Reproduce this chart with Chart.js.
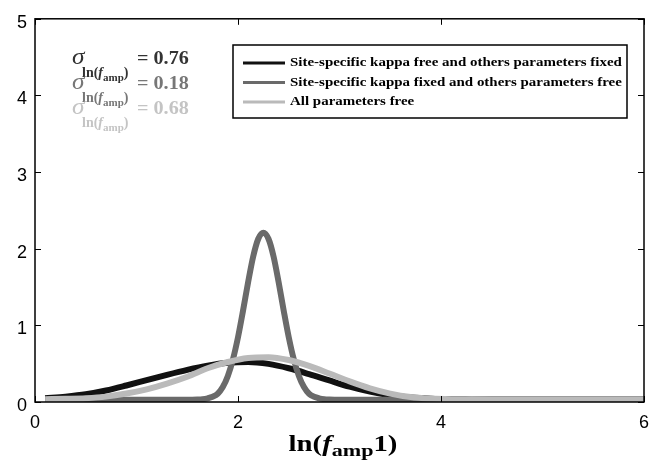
<!DOCTYPE html>
<html>
<head>
<meta charset="utf-8">
<script src="https://cdn.jsdelivr.net/npm/chart.js@4"></script>
<style>
html,body{margin:0;padding:0;background:#fff;}
#wrap{width:665px;height:468px;}
</style>
</head>
<body>
<div id="wrap"><canvas id="c" width="665" height="468"></canvas></div>
<script>
// curve samples
var blackX=[0.1,0.3,0.5,0.7,0.9,1.1,1.3,1.5,1.7,1.9,2.1,2.3,2.5,2.7,2.9,3.1,3.3,3.5,3.7,3.9,4.1,4.3,4.5,5.0,6.0];
var blackY=[0.05,0.07,0.1,0.15,0.215,0.285,0.355,0.42,0.475,0.512,0.522,0.497,0.44,0.364,0.281,0.2,0.135,0.088,0.058,0.043,0.036,0.034,0.033,0.032,0.032];
var lightX=[0.1,0.3,0.5,0.7,0.9,1.1,1.3,1.5,1.7,1.9,2.1,2.3,2.5,2.7,2.9,3.1,3.3,3.5,3.7,3.9,4.1,4.3,4.5,5.0,6.0];
var lightY=[0.036,0.042,0.05,0.07,0.11,0.165,0.24,0.33,0.44,0.522,0.575,0.585,0.548,0.471,0.372,0.269,0.179,0.11,0.065,0.045,0.037,0.035,0.034,0.034,0.034];
var darkX=[0.1,1.0,1.5,1.6,1.65,1.7,1.75,1.8,1.85,1.9,1.95,2.0,2.05,2.1,2.15,2.2,2.25,2.3,2.35,2.4,2.45,2.5,2.55,2.6,2.65,2.7,2.75,2.8,2.85,2.9,3.0,4.0,6.0];
var darkY=[0.03,0.03,0.03,0.033,0.037,0.048,0.068,0.108,0.195,0.34,0.555,0.845,1.195,1.565,1.9,2.13,2.21,2.13,1.9,1.565,1.195,0.845,0.555,0.34,0.195,0.108,0.068,0.048,0.037,0.033,0.03,0.03,0.03];
var seriesNames=['Site-specific kappa free and others parameters fixed','Site-specific kappa fixed and others parameters free','All parameters free'];
var sigmaVals=['0.76','0.18','0.68'];
var colors=['#111111','#6a6a6a','#bababa'];
var sigmaColors=['#333333','#777777','#c4c4c4'];
var xTicks=[0,2,4,6];
var yTicks=[0,1,2,3,4,5];

function pts(xs,ys){return xs.map(function(x,i){return {x:x,y:ys[i]};});}

var SERIF='"Liberation Serif","Times New Roman",serif';
// text drawn a bit wider than the font, like the stretched original
function wtext(c,t,font,x,y,sx){
  c.font=font;c.save();c.translate(x,y);c.scale(sx,1);c.fillText(t,0,0);c.restore();
  return c.measureText(t).width*sx;
}
var deco={
  id:'deco',
  afterDraw:function(ch){
    var c=ch.ctx,a=ch.chartArea,xs=ch.scales.x,ys=ch.scales.y;
    c.save();
    // box + inward ticks
    c.strokeStyle='#000';c.lineWidth=1.5;
    c.strokeRect(a.left,a.top,a.right-a.left,a.bottom-a.top);
    c.lineWidth=1;c.beginPath();
    xTicks.forEach(function(v){var p=Math.round(xs.getPixelForValue(v))+0.5;
      c.moveTo(p,a.bottom);c.lineTo(p,a.bottom-6);c.moveTo(p,a.top);c.lineTo(p,a.top+6);});
    yTicks.forEach(function(v){var p=Math.round(ys.getPixelForValue(v))+0.5;
      c.moveTo(a.left,p);c.lineTo(a.left+6,p);c.moveTo(a.right,p);c.lineTo(a.right-6,p);});
    c.stroke();
    // sigma annotations
    c.textBaseline='alphabetic';c.textAlign='left';
    sigmaVals.forEach(function(s,i){
      var y0=64+i*25;c.fillStyle=sigmaColors[i];
      wtext(c,'\u03c3','italic 23px '+SERIF,72,y0,1.1);
      var x=82;
      x+=wtext(c,'ln(','bold 14px '+SERIF,x,y0+13,1);
      x+=wtext(c,'f','italic bold 14px '+SERIF,x,y0+13,1);
      x+=wtext(c,'amp','bold 11px '+SERIF,x,y0+17,1);
      wtext(c,')','bold 14px '+SERIF,x,y0+13,1);
      wtext(c,'= '+s,'bold 18px '+SERIF,137,y0,1.12);
    });
    // legend
    c.fillStyle='#fff';c.fillRect(233,45,394,73);
    c.strokeStyle='#000';c.lineWidth=1.5;c.strokeRect(233,45,394,73);
    seriesNames.forEach(function(n,i){
      var y=63+i*19.5;
      c.strokeStyle=colors[i];c.lineWidth=3;c.beginPath();c.moveTo(243,y);c.lineTo(285,y);c.stroke();
      c.fillStyle='#000';c.textBaseline='middle';wtext(c,n,'bold 13px '+SERIF,290,y,1.15);
    });
    // x axis title
    c.textBaseline='alphabetic';c.fillStyle='#000';
    var parts=[['ln(','bold 23px',0,1.25],['f','italic bold 23px',0,1.25],['amp','bold 17px',5,1.3],['1)','bold 23px',0,1.25]];
    var w=0;parts.forEach(function(p){c.font=p[1]+' '+SERIF;w+=c.measureText(p[0]).width*p[3];});
    var x=343-w/2;
    parts.forEach(function(p){x+=wtext(c,p[0],p[1]+' '+SERIF,x,451+p[2],p[3]);});
    c.restore();
  }
};

new Chart(document.getElementById('c').getContext('2d'),{
  type:'line',
  data:{datasets:[
    {label:seriesNames[0],data:pts(blackX,blackY),borderColor:colors[0],order:2},
    {label:seriesNames[1],data:pts(darkX,darkY),borderColor:colors[1],order:1},
    {label:seriesNames[2],data:pts(lightX,lightY),borderColor:colors[2],order:0}
  ]},
  options:{
    responsive:false,animation:false,
    layout:{padding:{top:15,right:21,left:0,bottom:0}},
    elements:{point:{radius:0},line:{borderWidth:6,cubicInterpolationMode:'monotone',fill:false}},
    plugins:{legend:{display:false},tooltip:{enabled:false}},
    scales:{
      x:{type:'linear',min:0,max:6,
        afterBuildTicks:function(s){s.ticks=xTicks.map(function(v){return {value:v};});},
        afterFit:function(s){s.height=66;},
        grid:{display:false,drawTicks:false},border:{display:false},
        ticks:{color:'#000',padding:10,maxRotation:0,font:{family:'"Liberation Sans",Arial,sans-serif',size:18}}},
      y:{type:'linear',min:0,max:5,
        afterBuildTicks:function(s){s.ticks=yTicks.map(function(v){return {value:v};});},
        afterFit:function(s){s.width=35;},
        grid:{display:false,drawTicks:false},border:{display:false},
        ticks:{color:'#000',padding:8,labelOffset:4,font:{family:'"Liberation Sans",Arial,sans-serif',size:18}}}
    }
  },
  plugins:[deco]
});
</script>
</body>
</html>
